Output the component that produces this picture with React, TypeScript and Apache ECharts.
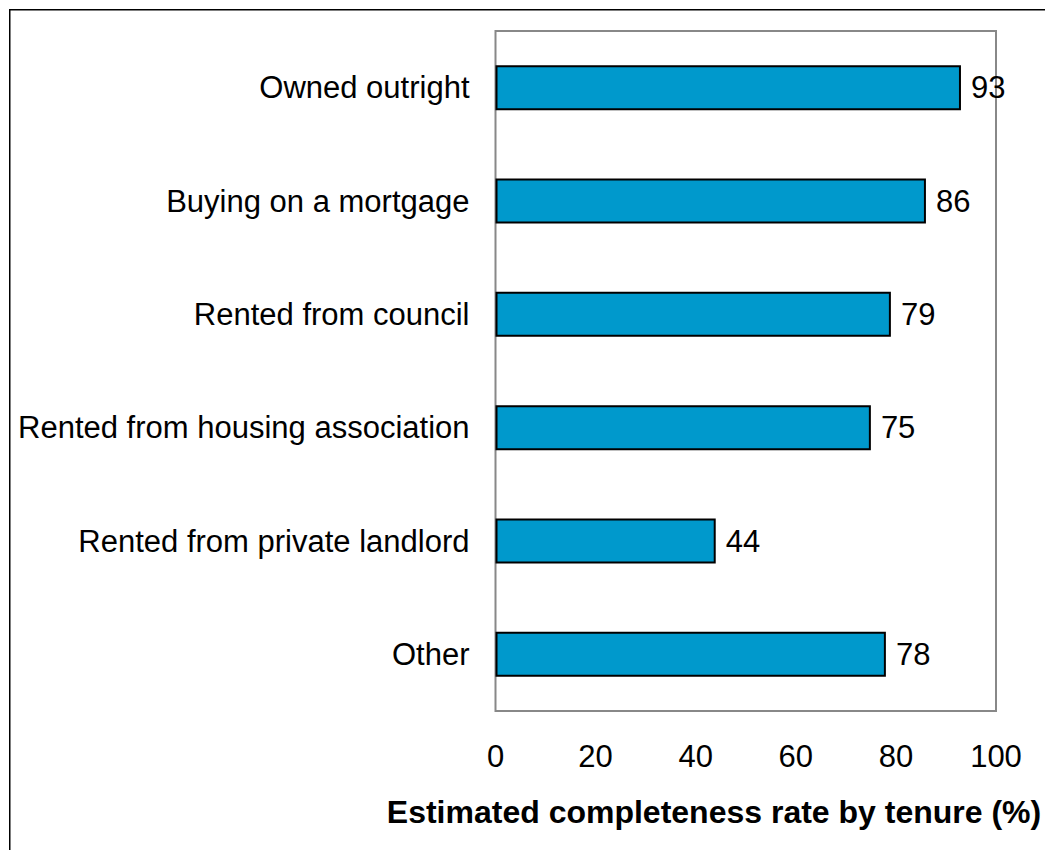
import React, { useEffect, useRef } from "react";
import * as echarts from "echarts";

const categories = [
  "Owned outright",
  "Buying on a mortgage",
  "Rented from council",
  "Rented from housing association",
  "Rented from private landlord",
  "Other",
];
const values = [93, 86, 79, 75, 44, 78];
const axisTitle = "Estimated completeness rate by tenure (%)";

const FONT = "Liberation Sans, Arial, sans-serif";

export default function App() {
  const ref = useRef<HTMLDivElement>(null);
  useEffect(() => {
    if (!ref.current) return;
    const chart = echarts.init(ref.current, null, { renderer: "svg" });
    chart.setOption({
      animation: false,
      backgroundColor: "#ffffff",
      grid: { left: 495.5, top: 31, width: 500.5, height: 680, show: true, borderColor: "#888888", borderWidth: 2, backgroundColor: "transparent" },
      xAxis: {
        type: "value",
        min: 0,
        max: 100,
        interval: 20,
        axisLine: { show: false },
        axisTick: { show: false },
        splitLine: { show: false },
        axisLabel: { fontSize: 31, color: "#000", fontFamily: FONT, margin: 30 },
      },
      yAxis: {
        type: "category",
        inverse: true,
        data: categories,
        axisLine: { show: false },
        axisTick: { show: false },
        splitLine: { show: false },
        axisLabel: { fontSize: 31, color: "#000", fontFamily: FONT, margin: 26 },
      },
      graphic: [
        {
          type: "rect",
          shape: { x: 9.75, y: 9.75, width: 3000, height: 3000 },
          style: { fill: "none", stroke: "#000", lineWidth: 1.5 },
          silent: true,
        },
        {
          type: "text",
          x: 714,
          y: 812,
          style: {
            text: axisTitle,
            fontSize: 32,
            fontWeight: "bold",
            fontFamily: FONT,
            fill: "#000",
            textAlign: "center",
            textVerticalAlign: "middle",
          },
        },
      ],
      series: [
        {
          type: "bar",
          data: values,
          barWidth: 45,
          itemStyle: { color: "#0099cc", borderColor: "#000", borderWidth: 2 },
          label: { show: true, position: "right", distance: 10, fontSize: 31, color: "#000", fontFamily: FONT },
        },
      ],
    });
    return () => chart.dispose();
  }, []);
  return <div ref={ref} style={{ position: "fixed", left: 0, top: 0, width: 1045, height: 850 }} />;
}
